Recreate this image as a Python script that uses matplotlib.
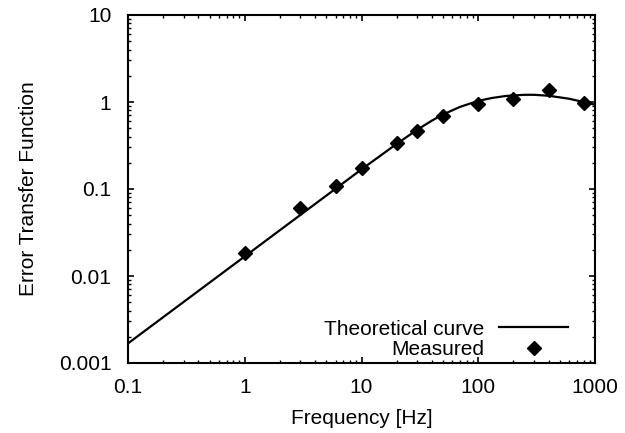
import numpy as np
import matplotlib
matplotlib.use("Agg")
from matplotlib import pyplot as plt
from matplotlib.ticker import LogLocator, NullFormatter, FixedLocator, FixedFormatter

plt.rcParams['font.family'] = ['Liberation Sans', 'DejaVu Sans']

# theoretical curve, values
f_theory = [0.1, 1, 10, 20, 30, 40, 50, 70, 100, 130, 170, 200, 250, 300,
            400, 500, 600, 700, 850, 1000]
e_theory = [0.00168, 0.0168, 0.168, 0.33, 0.48, 0.61, 0.72, 0.88, 1.03, 1.11,
            1.17, 1.19, 1.21, 1.21, 1.18, 1.13, 1.09, 1.04, 0.98, 0.93]

# measured points
f_meas = [1, 3, 6, 10, 20, 30, 50, 100, 200, 400, 800]
e_meas = [0.0184, 0.0605, 0.107, 0.174, 0.338, 0.465, 0.69, 0.96, 1.08, 1.37, 0.97]

xticks = [0.1, 1, 10, 100, 1000]
xlabels = ["0.1", "1", "10", "100", "1000"]
yticks = [0.001, 0.01, 0.1, 1, 10]
ylabels = ["0.001", "0.01", "0.1", "1", "10"]

fs = 15

fig = plt.figure(figsize=(6.25, 4.33), dpi=100)
ax = fig.add_axes([128/625, 1 - 363/433, (595-128)/625, (363-15)/433])

ax.plot(f_theory, e_theory, color="black", lw=1.6, label="Theoretical curve")
ax.plot(f_meas, e_meas, ls="none", marker="D", ms=6.8, color="black",
        label="Measured")

ax.set_xscale("log")
ax.set_yscale("log")
ax.set_xlim(0.1, 1000)
ax.set_ylim(0.001, 10)

ax.xaxis.set_major_locator(FixedLocator(xticks))
ax.xaxis.set_major_formatter(FixedFormatter(xlabels))
ax.yaxis.set_major_locator(FixedLocator(yticks))
ax.yaxis.set_major_formatter(FixedFormatter(ylabels))
ax.xaxis.set_minor_locator(LogLocator(base=10, subs=np.arange(2, 10), numticks=20))
ax.yaxis.set_minor_locator(LogLocator(base=10, subs=np.arange(2, 10), numticks=20))
ax.xaxis.set_minor_formatter(NullFormatter())
ax.yaxis.set_minor_formatter(NullFormatter())

ax.tick_params(which="both", direction="in", top=True, right=True, labelsize=fs)
ax.tick_params(which="major", length=4, width=1.2)
ax.tick_params(which="minor", length=2, width=1)
ax.tick_params(axis="x", which="major", pad=10.5)
ax.tick_params(axis="y", which="major", pad=12)
for s in ax.spines.values():
    s.set_linewidth(1.5)

ax.set_xlabel("Frequency [Hz]", fontsize=fs, labelpad=9)
ax.set_ylabel("Error Transfer Function", fontsize=fs, labelpad=15)

ax.legend(loc="lower right", frameon=False, markerfirst=False, fontsize=fs,
          handlelength=3.3, handletextpad=0.7, labelspacing=0.05,
          borderpad=0, borderaxespad=0, bbox_to_anchor=(0.942, 0.012))

fig.savefig("out.png", dpi=100)
